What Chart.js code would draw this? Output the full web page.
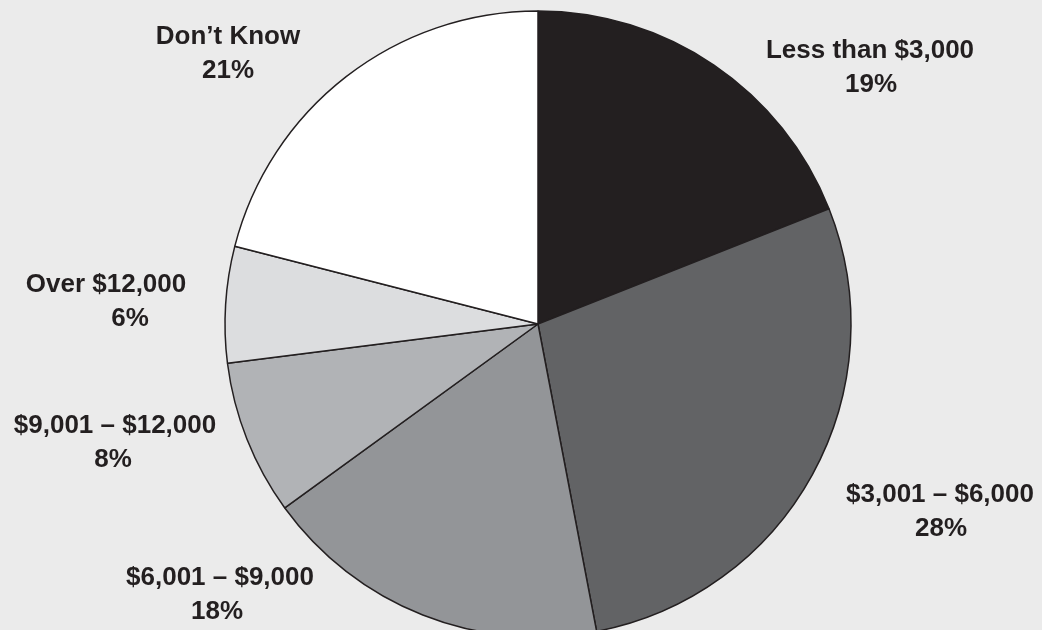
<!DOCTYPE html>
<html>
<head>
<meta charset="utf-8">
<script src="https://cdn.jsdelivr.net/npm/chart.js@4"></script>
<style>
  html, body { margin: 0; padding: 0; background: #ebebeb; overflow: hidden; }
  canvas { display: block; }
</style>
</head>
<body>
<canvas id="pie" width="1042" height="660"></canvas>
<script>
var categories = ["Less than $3,000", "$3,001 \u2013 $6,000", "$6,001 \u2013 $9,000", "$9,001 \u2013 $12,000", "Over $12,000", "Don\u2019t Know"];
var percents = [19, 28, 18, 8, 6, 21];
var sliceColors = ["#231f20", "#626365", "#939598", "#b1b3b6", "#dcdddf", "#ffffff"];

// label anchors relative to the pie centre: [line1 x, line1 baseline, line2 x]
var labelOffsets = [
  [332, -266, 333],
  [402, 178, 403],
  [-318, 261, -321],
  [-423, 109, -425],
  [-432, -32, -408],
  [-310, -280, -310]
];

var sliceLabels = {
  id: "sliceLabels",
  afterDraw: function (chart) {
    var ctx = chart.ctx;
    var arcs = chart.getDatasetMeta(0).data;
    var cx = arcs[0].x, cy = arcs[0].y;
    ctx.save();
    ctx.font = 'bold 26px "Liberation Sans", Arial, sans-serif';
    ctx.fillStyle = "#231f20";
    ctx.textAlign = "center";
    ctx.textBaseline = "alphabetic";
    categories.forEach(function (name, i) {
      var o = labelOffsets[i];
      ctx.fillText(name, cx + o[0], cy + o[1]);
      ctx.fillText(percents[i] + "%", cx + o[2], cy + o[1] + 34);
    });
    ctx.restore();
  }
};

var chart = new Chart(document.getElementById("pie"), {
  type: "pie",
  data: {
    labels: categories,
    datasets: [{
      data: percents,
      backgroundColor: sliceColors,
      borderColor: "#231f20",
      borderWidth: 1.5
    }]
  },
  options: {
    responsive: false,
    animation: false,
    radius: 313,
    layout: { padding: { left: 34, right: 0, top: 11, bottom: 23 } },
    plugins: {
      legend: { display: false },
      tooltip: { enabled: false }
    }
  },
  plugins: [sliceLabels]
});
</script>
</body>
</html>
